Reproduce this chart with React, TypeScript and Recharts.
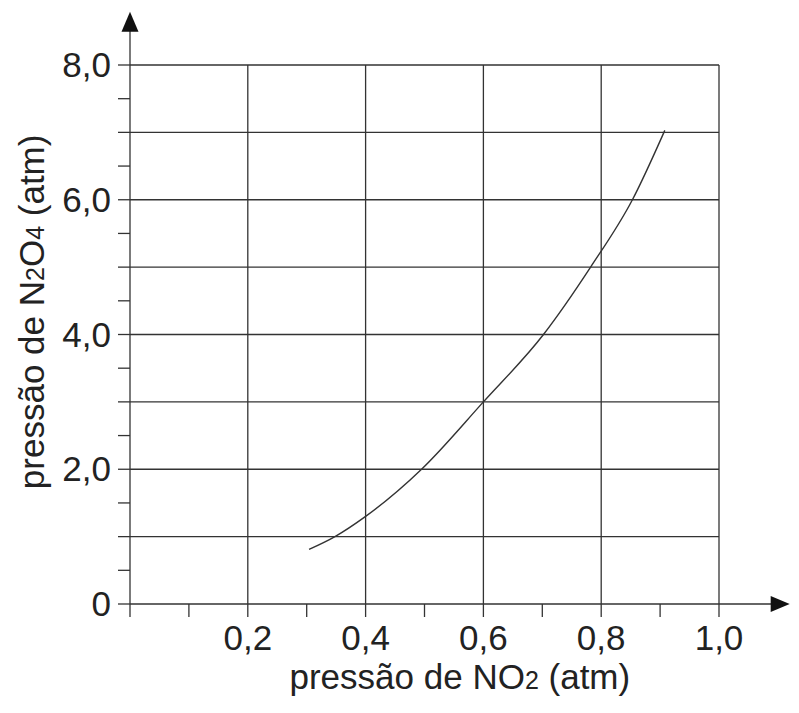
import { ComposedChart, Line, XAxis, YAxis, CartesianGrid, ReferenceLine, ReferenceDot } from "recharts";

// pressure of NO2 (atm)
const no2 = [0.304, 0.348, 0.4, 0.495, 0.6, 0.702, 0.782, 0.853, 0.908];
// pressure of N2O4 (atm) at the same points
const n2o4 = [0.81, 1.0, 1.3, 2.0, 3.0, 4.0, 5.0, 6.0, 7.03];

const xTicks = [0, 0.1, 0.2, 0.3, 0.4, 0.5, 0.6, 0.7, 0.8, 0.9, 1.0];
const xMajor = [0.2, 0.4, 0.6, 0.8, 1.0];
const xMajorLabels = ["0,2", "0,4", "0,6", "0,8", "1,0"];

const yTicks = [0, 0.5, 1, 1.5, 2, 2.5, 3, 3.5, 4, 4.5, 5, 5.5, 6, 6.5, 7, 7.5, 8];
const yMajor = [0, 2, 4, 6, 8];
const yMajorLabels = ["0", "2,0", "4,0", "6,0", "8,0"];

const xGrid = [0.2, 0.4, 0.6, 0.8, 1.0];
const yGrid = [1, 2, 3, 4, 5, 6, 7, 8];

// where the axis arrows end, in data units
const xAxisEnd = 1.12;
const yAxisEnd = 8.79;

const data = no2.map((x, i) => ({ x, p: n2o4[i] }));

const INK = "#333";
const TEXT = "#222";
const FONT = "'Liberation Sans', Arial, sans-serif";

function XTick(props: any) {
    const { x, y, payload } = props;
    const i = xMajor.indexOf(payload.value);
    if (i < 0) return <g />;
    return (
        <text x={x} y={y + 31} textAnchor="middle" fontFamily={FONT} fontSize={35} fill={TEXT}>
            {xMajorLabels[i]}
        </text>
    );
}

function YTick(props: any) {
    const { x, y, payload } = props;
    const i = yMajor.indexOf(payload.value);
    if (i < 0) return <g />;
    return (
        <text x={x - 5} y={y + 12} textAnchor="end" fontFamily={FONT} fontSize={35} fill={TEXT}>
            {yMajorLabels[i]}
        </text>
    );
}

function XTitle(props: any) {
    const { viewBox } = props;
    const cx = viewBox.x + viewBox.width * 0.56;
    return (
        <text x={cx} y={viewBox.y + 85} textAnchor="middle" fontFamily={FONT} fontSize={35} fill={TEXT}>
            pressão de NO<tspan fontSize={25}>2</tspan> (atm)
        </text>
    );
}

function YTitle(props: any) {
    const { viewBox } = props;
    const bx = viewBox.x + 44;
    const cy = viewBox.y + viewBox.height * 0.458;
    return (
        <text
            x={bx}
            y={cy}
            transform={`rotate(-90 ${bx} ${cy})`}
            textAnchor="middle"
            fontFamily={FONT}
            fontSize={35}
            fill={TEXT}
        >
            pressão de N<tspan fontSize={25}>2</tspan>O<tspan fontSize={25}>4</tspan> (atm)
        </text>
    );
}

const UpArrow = (p: any) => (
    <path d={`M${p.cx},${p.cy} L${p.cx - 8.5},${p.cy + 20} L${p.cx + 8.5},${p.cy + 20} Z`} fill="#111" />
);
const RightArrow = (p: any) => (
    <path d={`M${p.cx},${p.cy} L${p.cx - 19},${p.cy - 8} L${p.cx - 19},${p.cy + 8} Z`} fill="#111" />
);

export default function App() {
    return (
        <div style={{ width: 799, height: 713, background: "#fff" }}>
            <style>{`body{margin:0}`}</style>
            <ComposedChart width={799} height={713} data={data} margin={{ top: 65, right: 80, bottom: 0, left: 0 }}>
                <CartesianGrid
                    horizontalValues={yGrid}
                    verticalValues={xGrid}
                    stroke={INK}
                    strokeWidth={1.3}
                    fill="none"
                />
                <XAxis
                    dataKey="x"
                    type="number"
                    domain={[0, 1]}
                    ticks={xTicks}
                    interval={0}
                    height={109}
                    tickSize={13}
                    axisLine={{ stroke: INK, strokeWidth: 1.3 }}
                    tickLine={{ stroke: INK, strokeWidth: 1.3 }}
                    tick={<XTick />}
                    label={<XTitle />}
                />
                <YAxis
                    type="number"
                    domain={[0, 8]}
                    ticks={yTicks}
                    interval={0}
                    width={130}
                    tickSize={12}
                    axisLine={{ stroke: INK, strokeWidth: 1.3 }}
                    tickLine={{ stroke: INK, strokeWidth: 1.3 }}
                    tick={<YTick />}
                    label={<YTitle />}
                />
                <ReferenceLine
                    segment={[{ x: 0, y: 8 }, { x: 0, y: yAxisEnd - 0.1 }]}
                    stroke={INK}
                    strokeWidth={1.3}
                    ifOverflow="visible"
                />
                <ReferenceLine
                    segment={[{ x: 1, y: 0 }, { x: xAxisEnd - 0.01, y: 0 }]}
                    stroke={INK}
                    strokeWidth={1.3}
                    ifOverflow="visible"
                />
                <ReferenceDot x={0} y={yAxisEnd} ifOverflow="visible" shape={UpArrow} />
                <ReferenceDot x={xAxisEnd} y={0} ifOverflow="visible" shape={RightArrow} />
                <Line
                    dataKey="p"
                    type="monotone"
                    stroke={INK}
                    strokeWidth={1.4}
                    dot={false}
                    activeDot={false}
                    isAnimationActive={false}
                />
            </ComposedChart>
        </div>
    );
}
